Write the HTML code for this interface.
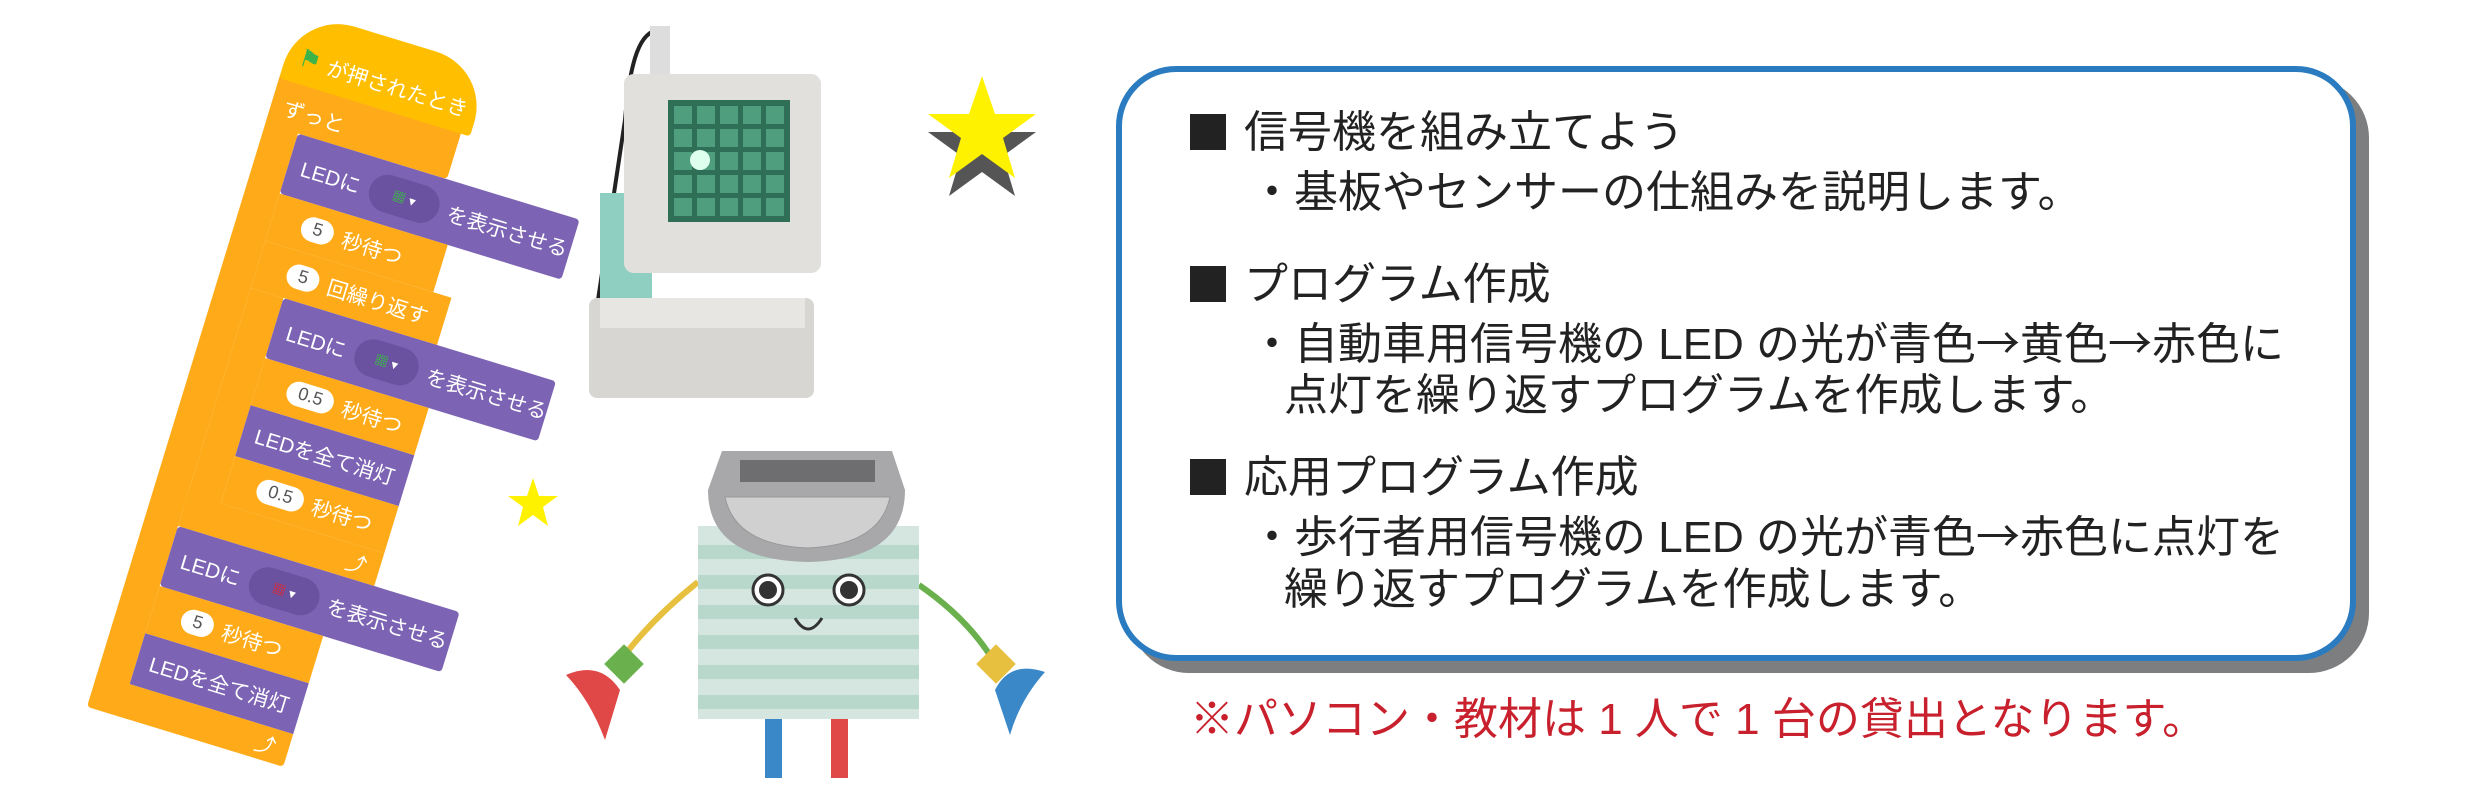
<!DOCTYPE html>
<html><head><meta charset="utf-8"><style>
body{margin:0;width:2481px;height:778px;background:#fff;position:relative;overflow:hidden;font-family:"Liberation Sans","Noto Sans CJK JP",sans-serif}
.a{position:absolute}
.stack{position:absolute;left:300px;top:10px;transform-origin:0 0;transform:rotate(17deg) scale(0.95)}
.b{position:absolute;color:#fff;font-size:22px;display:flex;align-items:center;padding-left:14px;box-sizing:border-box;white-space:nowrap}
.o{background:#ffab19}.p{background:#7c63b3}
.n{background:#fff;color:#555;border-radius:20px;padding:2px 12px;margin-right:10px;font-size:19px}
.dd{background:#6a52a0;border-radius:22px;width:76px;height:40px;margin:0 10px;display:flex;align-items:center;justify-content:center;font-size:14px}
.t{position:absolute;font-size:44px;color:#222;white-space:nowrap;line-height:1}
.ar{font-family:"Noto Sans CJK JP",sans-serif}
</style></head><body>

<div class="stack">
  <div class="b o" style="left:0;top:70px;width:36px;height:670px"></div>
  <div class="b o" style="left:0;top:70px;width:200px;height:55px;border-radius:4px;padding-top:8px">ずっと</div>
  <div class="b" style="left:0;top:0;width:210px;height:75px;background:#ffbf00;border-radius:60px 60px 4px 4px;padding-top:20px"><span style="color:#3cb44a;font-size:26px;margin-right:8px">⚑</span>が押されたとき</div>
  <div class="b p" style="left:36px;top:125px;width:310px;height:66px;border-radius:4px">LEDに<span class="dd"><span style="color:#3c3">▦</span>&nbsp;▾</span>を表示させる</div>
  <div class="b o" style="left:36px;top:191px;width:185px;height:52px">&nbsp;&nbsp;&nbsp;<span class="n">5</span>秒待つ</div>
  <div class="b o" style="left:36px;top:243px;width:205px;height:52px">&nbsp;&nbsp;&nbsp;<span class="n">5</span>回繰り返す</div>
  <div class="b o" style="left:36px;top:295px;width:36px;height:240px"></div>
  <div class="b p" style="left:72px;top:295px;width:300px;height:66px;border-radius:4px">LEDに<span class="dd"><span style="color:#3c3">▦</span>&nbsp;▾</span>を表示させる</div>
  <div class="b o" style="left:72px;top:361px;width:180px;height:52px">&nbsp;&nbsp;&nbsp;<span class="n">0.5</span>秒待つ</div>
  <div class="b p" style="left:72px;top:413px;width:180px;height:56px">LEDを全て消灯</div>
  <div class="b o" style="left:72px;top:469px;width:180px;height:52px">&nbsp;&nbsp;&nbsp;<span class="n">0.5</span>秒待つ</div>
  <div class="b o" style="left:36px;top:521px;width:216px;height:36px;justify-content:flex-end;padding-right:14px">⤴</div>
  <div class="b p" style="left:36px;top:557px;width:310px;height:66px;border-radius:4px">LEDに<span class="dd"><span style="color:#e22">▦</span>&nbsp;▾</span>を表示させる</div>
  <div class="b o" style="left:36px;top:623px;width:180px;height:52px">&nbsp;&nbsp;&nbsp;<span class="n">5</span>秒待つ</div>
  <div class="b p" style="left:36px;top:675px;width:180px;height:56px">LEDを全て消灯</div>
  <div class="b o" style="left:0;top:731px;width:216px;height:36px;justify-content:flex-end;padding-right:14px;border-radius:0 0 4px 4px">⤴</div>
</div>

<svg class="a" style="left:0;top:0" width="1100" height="778">
  <path d="M660 30 C640 30 630 60 625 120 L598 300" stroke="#222" stroke-width="4" fill="none"/>
  <rect x="650" y="26" width="20" height="50" fill="#ddd"/>
  <rect x="600" y="193" width="52" height="130" fill="#8fcfc2"/>
  <rect x="589" y="298" width="225" height="100" rx="8" fill="#d8d6d2"/>
  <rect x="600" y="298" width="205" height="30" fill="#e8e6e2"/>
  <rect x="624" y="74" width="197" height="199" rx="10" fill="#e2e0dc"/>
  <rect x="668" y="100" width="122" height="122" fill="#2f6f58"/>
  <g fill="#4f9f7f">
  <rect x="674" y="106" width="18" height="18"/><rect x="697" y="106" width="18" height="18"/><rect x="720" y="106" width="18" height="18"/><rect x="743" y="106" width="18" height="18"/><rect x="766" y="106" width="18" height="18"/>
  <rect x="674" y="129" width="18" height="18"/><rect x="697" y="129" width="18" height="18"/><rect x="720" y="129" width="18" height="18"/><rect x="743" y="129" width="18" height="18"/><rect x="766" y="129" width="18" height="18"/>
  <rect x="674" y="152" width="18" height="18"/><rect x="697" y="152" width="18" height="18"/><rect x="720" y="152" width="18" height="18"/><rect x="743" y="152" width="18" height="18"/><rect x="766" y="152" width="18" height="18"/>
  <rect x="674" y="175" width="18" height="18"/><rect x="697" y="175" width="18" height="18"/><rect x="720" y="175" width="18" height="18"/><rect x="743" y="175" width="18" height="18"/><rect x="766" y="175" width="18" height="18"/>
  <rect x="674" y="198" width="18" height="18"/><rect x="697" y="198" width="18" height="18"/><rect x="720" y="198" width="18" height="18"/><rect x="743" y="198" width="18" height="18"/><rect x="766" y="198" width="18" height="18"/>
  </g>
  <circle cx="700" cy="160" r="10" fill="#dfffee"/>
  <polygon points="982,82 995,120 1036,120 1003,144 1015,184 982,160 949,184 961,144 928,120 969,120" fill="#555" transform="translate(0,12)"/>
  <polygon points="982,76 995,114 1036,114 1003,138 1015,178 982,154 949,178 961,138 928,114 969,114" fill="#fff200"/>
  <polygon points="533,478 539,496 558,496 543,507 548,526 533,515 518,526 523,507 508,496 527,496" fill="#fff200"/>
  <path d="M698 582 Q650 620 617 665" stroke="#e8c040" stroke-width="6" fill="none"/>
  <path d="M919 585 Q970 620 996 665" stroke="#6ab04c" stroke-width="6" fill="none"/>
  <rect x="610" y="650" width="28" height="28" fill="#6ab04c" transform="rotate(45 624 664)"/>
  <path d="M566 675 Q600 660 620 690 L605 740 Q590 700 566 675Z" fill="#e04848"/>
  <rect x="982" y="650" width="28" height="28" fill="#e8c040" transform="rotate(45 996 664)"/>
  <path d="M1045 672 Q1010 660 995 690 L1010 735 Q1020 700 1045 672Z" fill="#3a88c8"/>
  <rect x="765" y="715" width="17" height="63" fill="#3a88c8"/>
  <rect x="831" y="715" width="17" height="63" fill="#e04848"/>
  <rect x="698" y="526" width="221" height="193" fill="#d4e6df"/>
  <g fill="#b8d8cc"><rect x="698" y="545" width="221" height="14"/><rect x="698" y="575" width="221" height="14"/><rect x="698" y="605" width="221" height="14"/><rect x="698" y="635" width="221" height="14"/><rect x="698" y="665" width="221" height="14"/><rect x="698" y="695" width="221" height="14"/></g>
  <path d="M722 451 L892 451 L905 490 Q905 560 808 562 Q708 560 708 490Z" fill="#a8a8aa"/>
  <rect x="740" y="460" width="135" height="22" fill="#6e6e70"/>
  <path d="M725 497 L890 497 Q880 545 808 548 Q735 545 725 497Z" fill="#d0d0d0" stroke="#999"/>
  <circle cx="768" cy="590" r="15" fill="#fff" stroke="#333" stroke-width="3"/><circle cx="768" cy="590" r="9" fill="#333"/>
  <circle cx="849" cy="590" r="15" fill="#fff" stroke="#333" stroke-width="3"/><circle cx="849" cy="590" r="9" fill="#333"/>
  <path d="M795 618 Q808 640 822 618" stroke="#333" stroke-width="3" fill="none"/>
</svg>

<div class="a" style="left:1129px;top:78px;width:1240px;height:595px;background:#7d7e80;border-radius:60px"></div>
<div class="a" style="left:1116px;top:66px;width:1240px;height:595px;background:#fff;border:6px solid #2a7bc0;border-radius:60px;box-sizing:border-box"></div>

<div class="a" style="left:1190px;top:114px;width:36px;height:36px;background:#222"></div>
<div class="t" style="left:1244px;top:111px">信号機を組み立てよう</div>
<div class="t" style="left:1250px;top:171px">・基板やセンサーの仕組みを説明します。</div>
<div class="a" style="left:1190px;top:266px;width:36px;height:36px;background:#222"></div>
<div class="t" style="left:1244px;top:263px">プログラム作成</div>
<div class="t" style="left:1250px;top:318px">・自動車用信号機の LED の光が青色<span class="ar">→</span>黄色<span class="ar">→</span>赤色に</div>
<div class="t" style="left:1284px;top:374px">点灯を繰り返すプログラムを作成します。</div>
<div class="a" style="left:1190px;top:459px;width:36px;height:36px;background:#222"></div>
<div class="t" style="left:1244px;top:456px">応用プログラム作成</div>
<div class="t" style="left:1250px;top:511px">・歩行者用信号機の LED の光が青色<span class="ar">→</span>赤色に点灯を</div>
<div class="t" style="left:1284px;top:568px">繰り返すプログラムを作成します。</div>
<div class="t" style="left:1190px;top:698px;color:#c8202c">※パソコン・教材は 1 人で 1 台の貸出となります。</div>
</body></html>
